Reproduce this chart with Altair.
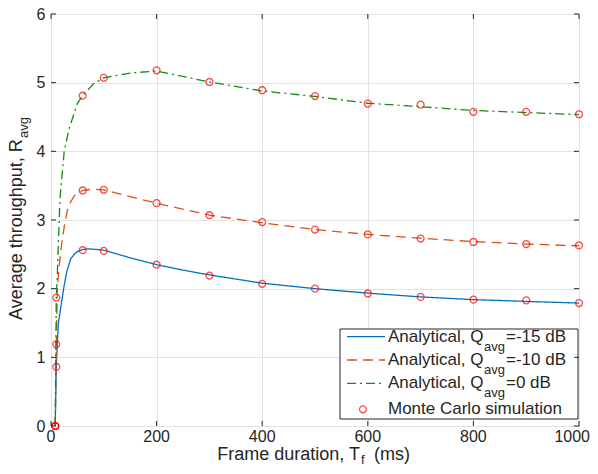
import altair as alt
import pandas as pd

# ---------------- data ----------------
blue_x = [8, 10, 12, 14, 17, 20, 25, 30, 37, 45, 50, 60, 70, 80, 100, 150, 200, 250, 300, 400, 500, 600, 700, 800, 900, 1000]
blue_y = [0, 0.86, 1.20, 1.50, 1.65, 1.80, 2.05, 2.25, 2.43, 2.51, 2.54, 2.57, 2.58, 2.575, 2.56, 2.45, 2.35, 2.27, 2.20, 2.08, 2.00, 1.935, 1.88, 1.84, 1.815, 1.79]

orange_x = [8, 10, 12, 15, 20, 25, 31, 37, 45, 60, 80, 100, 150, 200, 300, 400, 500, 600, 700, 800, 900, 1000]
orange_y = [0, 1.19, 2.00, 2.30, 2.64, 2.90, 3.14, 3.26, 3.36, 3.43, 3.45, 3.44, 3.34, 3.245, 3.07, 2.96, 2.86, 2.79, 2.735, 2.685, 2.65, 2.625]

green_x = [8, 10, 12, 13.4, 17, 25, 34, 50, 60, 80, 100, 150, 200, 300, 400, 500, 600, 700, 800, 900, 1000]
green_y = [0, 1.87, 2.20, 2.54, 3.31, 4.00, 4.32, 4.70, 4.81, 4.98, 5.07, 5.14, 5.17, 5.01, 4.88, 4.80, 4.70, 4.65, 4.595, 4.565, 4.535]

mc_x = [8, 10, 60, 100, 200, 300, 400, 500, 600, 700, 800, 900, 1000]
mc_blue = [0, 0.86, 2.56, 2.55, 2.35, 2.19, 2.07, 2.00, 1.93, 1.88, 1.84, 1.83, 1.79]
mc_orange = [0, 1.19, 3.43, 3.44, 3.245, 3.07, 2.97, 2.86, 2.79, 2.73, 2.68, 2.65, 2.63]
mc_green = [0, 1.87, 4.81, 5.07, 5.18, 5.01, 4.89, 4.805, 4.695, 4.68, 4.575, 4.575, 4.54]

x_ticks = [0, 200, 400, 600, 800, 1000]
y_ticks = [0, 1, 2, 3, 4, 5, 6]

series = ["Q=-15 dB", "Q=-10 dB", "Q=0 dB"]
colors = ["#0072BD", "#D95319", "#168A16"]
dashes = [[1, 0], [10, 6], [9, 4, 2, 4]]

# ---------------- style ----------------
FONT = "Liberation Sans"
TXT = "#262626"
W, H = 528, 412

curves = pd.concat([
    pd.DataFrame({"x": blue_x, "y": blue_y, "s": series[0]}),
    pd.DataFrame({"x": orange_x, "y": orange_y, "s": series[1]}),
    pd.DataFrame({"x": green_x, "y": green_y, "s": series[2]}),
], ignore_index=True)

mc = pd.concat([
    pd.DataFrame({"x": mc_x, "y": mc_blue}),
    pd.DataFrame({"x": mc_x, "y": mc_orange}),
    pd.DataFrame({"x": mc_x, "y": mc_green}),
], ignore_index=True)

xs = alt.Scale(domain=[0, 1000], nice=False, zero=False)
ys = alt.Scale(domain=[0, 6], nice=False, zero=False)

xaxis = alt.Axis(values=x_ticks, title="", grid=True, gridColor="#e2e2e2", domain=False, ticks=False,
                 labels=False)
yaxis = alt.Axis(values=y_ticks, format="d", title="", grid=True, gridColor="#e2e2e2", domain=False, ticks=False,
                 labelFont=FONT, labelFontSize=16, labelColor=TXT, labelPadding=6, labelFlush=False)

lines = alt.Chart(curves).mark_line(strokeWidth=1.3, clip=True).encode(
    x=alt.X("x:Q", scale=xs, axis=xaxis),
    y=alt.Y("y:Q", scale=ys, axis=yaxis),
    color=alt.Color("s:N", scale=alt.Scale(domain=series, range=colors), legend=None),
    strokeDash=alt.StrokeDash("s:N", scale=alt.Scale(domain=series, range=dashes), legend=None),
    detail="s:N",
    order="x:Q",
)

points = alt.Chart(mc).mark_point(shape="circle", filled=False, color="#FF0000", size=48, strokeWidth=1.3).encode(
    x=alt.X("x:Q", scale=xs),
    y=alt.Y("y:Q", scale=ys),
)

xt = pd.DataFrame({"t": x_ticks})
yt = pd.DataFrame({"t": y_ticks})
tick_kw = dict(color=TXT, strokeWidth=1)
xt_bot = alt.Chart(xt).mark_rule(**tick_kw).encode(x=alt.X("t:Q", scale=xs), y=alt.value(H), y2=alt.value(H - 5))
xt_top = alt.Chart(xt).mark_rule(**tick_kw).encode(x=alt.X("t:Q", scale=xs), y=alt.value(0), y2=alt.value(5))
yt_left = alt.Chart(yt).mark_rule(**tick_kw).encode(y=alt.Y("t:Q", scale=ys), x=alt.value(0), x2=alt.value(5))
yt_right = alt.Chart(yt).mark_rule(**tick_kw).encode(y=alt.Y("t:Q", scale=ys), x=alt.value(W), x2=alt.value(W - 5))

# x tick labels (last one kept inside the page edge)
xl_kw = dict(font=FONT, fontSize=16, color=TXT, baseline="top")
xlab_main = alt.Chart(pd.DataFrame({"t": x_ticks[:-1]})).mark_text(align="center", **xl_kw).encode(
    x=alt.X("t:Q", scale=xs), y=alt.value(H + 3), text=alt.Text("t:Q", format="d"))
xlab_last = alt.Chart(pd.DataFrame({"t": x_ticks[-1:]})).mark_text(align="right", dx=11, **xl_kw).encode(
    x=alt.X("t:Q", scale=xs), y=alt.value(H + 3), text=alt.Text("t:Q", format="d"))

one = pd.DataFrame({"a": [0]})


def txt(s, x, y, size=17, align="left", baseline="middle", angle=0):
    return alt.Chart(one).mark_text(text=s, align=align, baseline=baseline, fontSize=size,
                                    font=FONT, color=TXT, angle=angle).encode(x=alt.value(x), y=alt.value(y))


# legend
box = alt.Chart(one).mark_rect(fill="white", stroke=TXT, strokeWidth=1).encode(
    x=alt.value(289), x2=alt.value(527), y=alt.value(315), y2=alt.value(405))
rows = [322.7, 346.0, 369.3, 395.3]
leg_lines = [
    alt.Chart(one).mark_rule(color=colors[i], strokeWidth=1.3, strokeDash=dashes[i]).encode(
        x=alt.value(296), x2=alt.value(334), y=alt.value(rows[i]))
    for i in range(3)
]
leg_pt = alt.Chart(one).mark_point(shape="circle", filled=False, color="#FF0000", size=48, strokeWidth=1.3).encode(
    x=alt.value(312), y=alt.value(rows[3]))
leg_txt = []
for i, tail in enumerate(["=-15 dB", "=-10 dB", "=0 dB"]):
    leg_txt += [txt("Analytical, Q", 337, rows[i]),
                txt("avg", 433, rows[i] + 10, size=13),
                txt(tail, 455, rows[i])]
leg_txt.append(txt("Monte Carlo simulation", 337, rows[3]))

# axis titles
x_title = [txt("Frame duration, T", 309, 446, size=18, align="right", baseline="alphabetic"),
           txt("f", 310, 450, size=13, baseline="alphabetic"),
           txt("(ms)", 323, 446, size=18, baseline="alphabetic")]
y_title = [txt("Average throughput, R", -29, 306, size=18, angle=270, baseline="alphabetic"),
           txt("avg", -23, 306 - 182, size=13, angle=270, baseline="alphabetic")]

chart = alt.layer(
    lines, points, box, *leg_lines, leg_pt, *leg_txt,
    xt_bot, xt_top, yt_left, yt_right, xlab_main, xlab_last, *x_title, *y_title
).properties(
    width=W, height=H,
    autosize=alt.AutoSizeParams(type="none"),
    padding={"left": 43, "top": 6, "right": 11, "bottom": 40},
).configure_view(stroke=TXT, strokeWidth=1).configure(background="white")

chart.save("out.html", embed_options={"renderer": "svg", "actions": False})
